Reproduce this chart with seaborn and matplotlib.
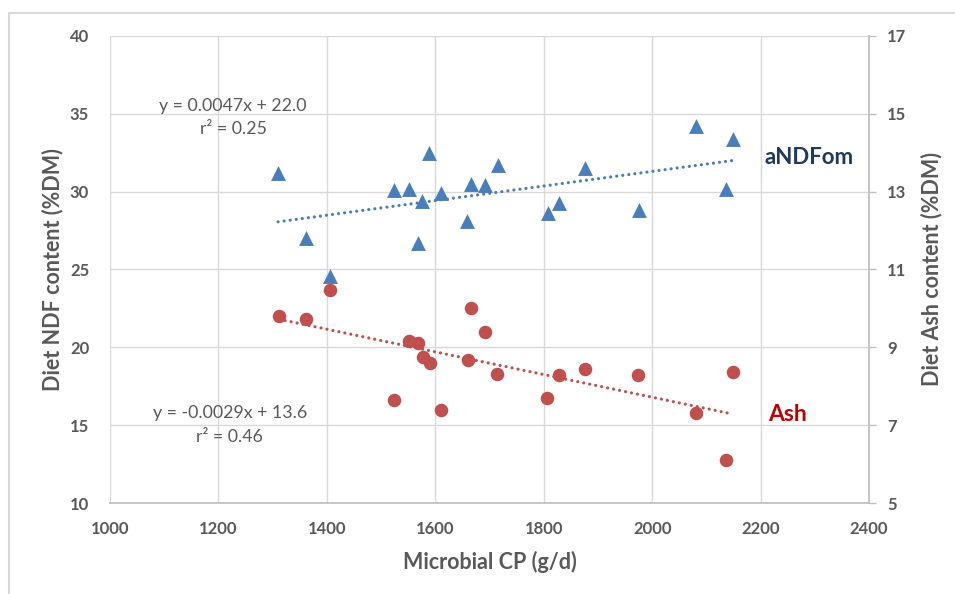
import numpy as np
import pandas as pd
import matplotlib
matplotlib.use("Agg")
import matplotlib.pyplot as plt
from matplotlib.lines import Line2D
import seaborn as sns

# ---- data ----
mcp_ndf = [1310, 1361, 1406, 1524, 1552, 1568, 1576, 1589, 1611, 1659,
           1666, 1692, 1716, 1808, 1828, 1876, 1976, 2081, 2137, 2149]
ndf = [31.2, 27.0, 24.6, 30.1, 30.2, 26.7, 29.4, 32.5, 29.9, 28.1,
       30.5, 30.4, 31.7, 28.6, 29.3, 31.5, 28.8, 34.2, 30.2, 33.4]
mcp_ash = [1312, 1362, 1406, 1524, 1552, 1568, 1577, 1590, 1611, 1661,
           1666, 1692, 1714, 1806, 1828, 1876, 1974, 2081, 2137, 2149]
ash = [9.81, 9.73, 10.48, 7.65, 9.16, 9.11, 8.75, 8.60, 7.39, 8.68,
       10.01, 9.40, 8.32, 7.70, 8.29, 8.44, 8.29, 7.31, 6.10, 8.37]

x_ticks = [1000, 1200, 1400, 1600, 1800, 2000, 2200, 2400]
left_ticks = [10, 15, 20, 25, 30, 35, 40]
right_ticks = [5, 7, 9, 11, 13, 15, 17]

eq_ndf = "y = 0.0047x + 22.0"
r2_ndf = "r² = 0.25"
eq_ash = "y = -0.0029x + 13.6"
r2_ash = "r² = 0.46"

BLUE = "#4A7EBB"
RED = "#C0504D"
GREY = "#595959"
GRID = "#D9D9D9"

sns.set_theme(style="white")
plt.rcParams['font.family'] = ['Lato', 'DejaVu Sans']

df_ndf = pd.DataFrame({"mcp": mcp_ndf, "val": ndf})
df_ash = pd.DataFrame({"mcp": mcp_ash, "val": ash})

fig = plt.figure(figsize=(9.55, 5.94), dpi=100)
ax = fig.add_axes([110/955, 1-503/594, (869-110)/955, (503-36)/594])
ax2 = ax.twinx()

dotted = dict(linestyle=(0, (0.01, 1.9)), lw=2.3, dash_capstyle="round")

# NDF on the left axis
sns.regplot(data=df_ndf, x="mcp", y="val", ax=ax, scatter=False, ci=None,
            color=BLUE, line_kws=dotted)
sns.scatterplot(data=df_ndf, x="mcp", y="val", ax=ax, marker="^", s=115,
                color=BLUE, linewidth=0, zorder=3)

# Ash on the right axis
sns.regplot(data=df_ash, x="mcp", y="val", ax=ax2, scatter=False, ci=None,
            color=RED, line_kws=dotted)
sns.scatterplot(data=df_ash, x="mcp", y="val", ax=ax2, marker="o", s=95,
                color=RED, linewidth=0, zorder=3)

ax.set_xlim(1000, 2400)
ax.set_ylim(10, 40)
ax2.set_ylim(5, 17)
ax.set_xticks(x_ticks)
ax.set_yticks(left_ticks)
ax2.set_yticks(right_ticks)

ax.grid(True, color=GRID, lw=1.0)
ax.set_axisbelow(True)
for a in (ax, ax2):
    for s in a.spines.values():
        s.set_visible(False)
ax.spines['bottom'].set_visible(True)
ax.spines['bottom'].set_color("#BFBFBF")
ax2.spines['right'].set_visible(True)
ax2.spines['right'].set_color("#BFBFBF")

ax.tick_params(axis="x", length=0, pad=13, labelsize=12, labelcolor=GREY)
ax.tick_params(axis="y", length=0, pad=15, labelsize=12, labelcolor=GREY)
ax2.tick_params(axis="y", length=5, width=1, color="#BFBFBF", direction="out",
                pad=8, labelsize=12, labelcolor=GREY)
for lab in ax.get_xticklabels() + ax.get_yticklabels() + ax2.get_yticklabels():
    lab.set_fontweight("bold")

ax.set_xlabel("Microbial CP (g/d)", fontsize=15.5, fontweight="bold",
              color=GREY, labelpad=10)
ax.set_ylabel("Diet NDF content (%DM)", fontsize=15.5, fontweight="bold",
              color=GREY, labelpad=5)
ax2.set_ylabel("Diet Ash content (%DM)", fontsize=15.5, fontweight="bold",
               color=GREY, labelpad=10)

# equations
ax.text(1227, 35.5, eq_ndf, ha="center", va="center", fontsize=12.8, color=GREY)
ax.text(1227, 34.0, r2_ndf, ha="center", va="center", fontsize=12.8, color=GREY)
ax.text(1221, 15.8, eq_ash, ha="center", va="center", fontsize=12.8, color=GREY)
ax.text(1221, 14.25, r2_ash, ha="center", va="center", fontsize=12.8, color=GREY)

# series labels
ax.text(2208, 32.2, "aNDFom", ha="left", va="center", fontsize=16,
        fontweight="bold", color="#1F3864")
ax.text(2214, 15.7, "Ash", ha="left", va="center", fontsize=16.5,
        fontweight="bold", color="#C00000")

# outer frame (partial, like the reference crop)
fig.add_artist(Line2D([9/955, 9/955], [0, 1-13/594], transform=fig.transFigure,
                      color="#D9D9D9", lw=1.5))
fig.add_artist(Line2D([9/955, 1], [1-13/594, 1-13/594], transform=fig.transFigure,
                      color="#D9D9D9", lw=1.5))

fig.savefig("out.png", dpi=100)
